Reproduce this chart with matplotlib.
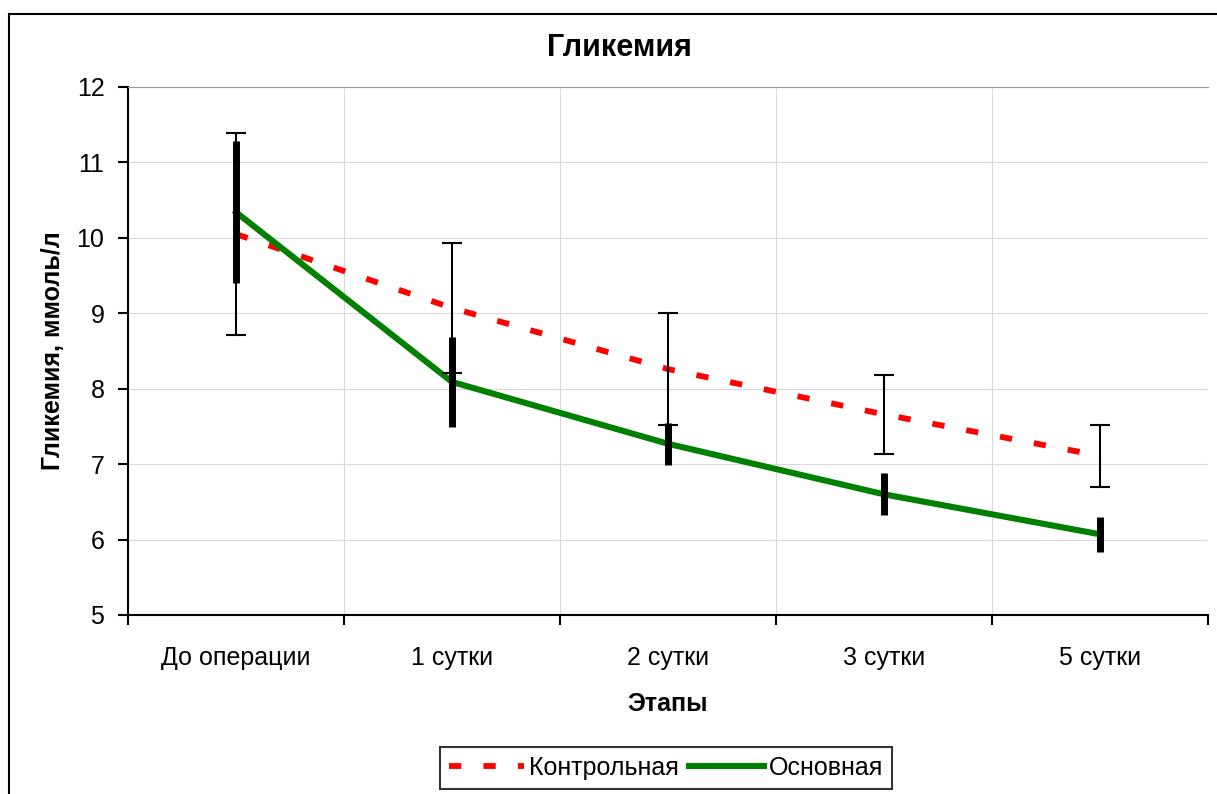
import matplotlib.pyplot as plt
from matplotlib.patches import Rectangle
from matplotlib.ticker import FixedLocator, NullFormatter

plt.rcParams['font.family'] = ['Liberation Sans', 'DejaVu Sans']

stages = ['До операции', '1 сутки', '2 сутки', '3 сутки', '5 сутки']
control = [10.05, 9.07, 8.26, 7.66, 7.11]
control_err = [1.34, 0.86, 0.74, 0.52, 0.41]
main = [10.34, 8.09, 7.27, 6.60, 6.07]
main_err = [0.94, 0.60, 0.28, 0.28, 0.23]

W, H = 1217, 794
fig = plt.figure(figsize=(W / 100, H / 100), dpi=100)
fig.patches.append(Rectangle((9 / W, -0.1), 1.2, 1 - 14 / H + 0.1, transform=fig.transFigure,
                             fill=False, edgecolor='black', linewidth=1.5))

ax = fig.add_axes([128 / W, (H - 615) / H, (1208 - 128) / W, (615 - 87) / H])
x = list(range(len(stages)))

ax.plot(x, control, color='red', lw=4.2, dashes=(2.1, 3.8), label='Контрольная', zorder=3)
ax.plot(x, main, color='#008000', lw=4.4, label='Основная', zorder=3)
ax.errorbar(x, control, yerr=control_err, fmt='none', ecolor='black', elinewidth=1.5,
            capsize=7, capthick=1.5, zorder=4)
ax.errorbar(x, main, yerr=main_err, fmt='none', ecolor='black', elinewidth=5,
            capsize=0, zorder=4)

ax.set_xlim(-0.5, len(stages) - 0.5)
ax.set_ylim(5, 12)
ax.set_xticks(x)
ax.set_xticklabels(stages, fontsize=18)
ax.tick_params(axis='x', which='major', length=0, pad=22)
ax.xaxis.set_minor_locator(FixedLocator([i - 0.5 for i in range(len(stages) + 1)]))
ax.xaxis.set_minor_formatter(NullFormatter())
ax.tick_params(axis='x', which='minor', length=7, width=1.5, direction='out')
ax.tick_params(axis='y', length=7, width=1.5, labelsize=18, pad=10)

ax.grid(True, which='major', axis='y', color='#d9d9d9', lw=0.8)
ax.grid(True, which='minor', axis='x', color='#d9d9d9', lw=0.8)
ax.spines['right'].set_visible(False)
ax.spines['top'].set_color('#999999')
ax.spines['left'].set_linewidth(1.5)
ax.spines['bottom'].set_linewidth(1.5)

# title is centred on the chart frame, not on the plot area
ax.set_title('Гликемия', fontsize=22, fontweight='bold', pad=22, x=(619 - 128) / 1080)
ax.set_xlabel('Этапы', fontsize=18, fontweight='bold', labelpad=16)
ax.set_ylabel('Гликемия, ммоль/л', fontsize=18, fontweight='bold', labelpad=8)

leg = fig.legend(loc='center', bbox_to_anchor=(666 / W, 1 - 768 / H), ncol=2, fontsize=18,
                 frameon=True, fancybox=False, edgecolor='black', handlelength=3.0,
                 columnspacing=0.4, handletextpad=0.2, borderpad=0.35)
leg.get_frame().set_linewidth(1.5)

fig.savefig('out.png', dpi=100)
